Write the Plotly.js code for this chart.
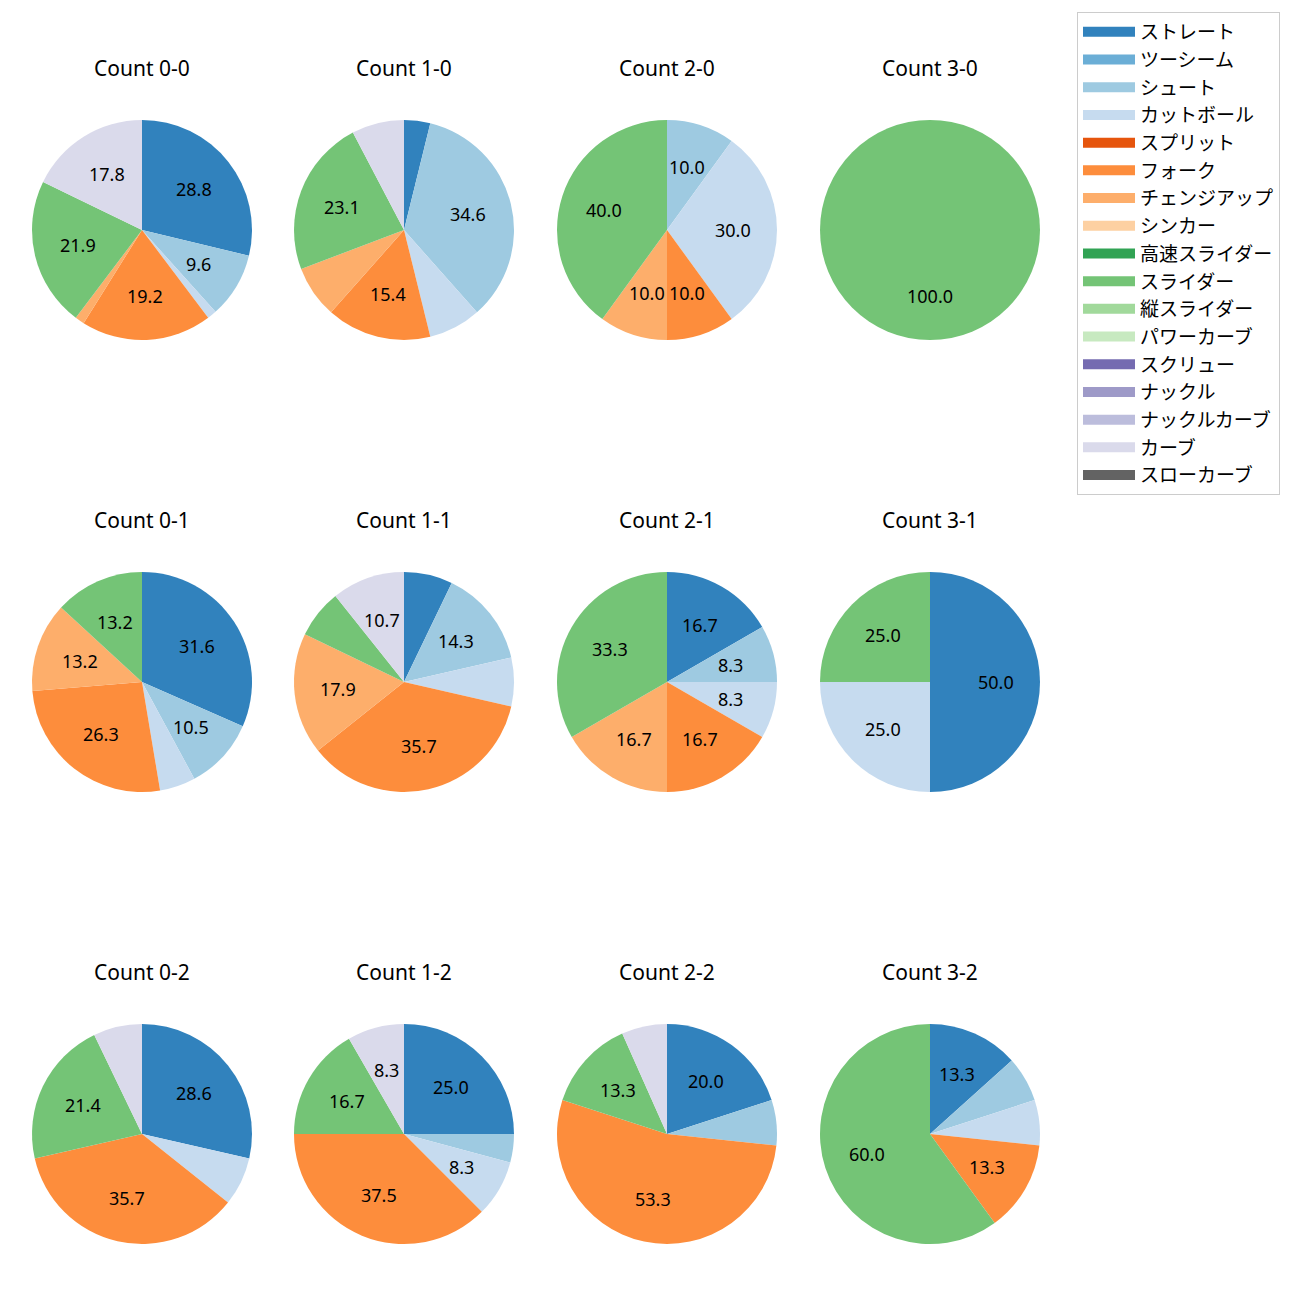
<!DOCTYPE html>
<html>
<head>
<meta charset="utf-8">
<script src="https://cdn.plot.ly/plotly-3.0.1.min.js"></script>
<style>body{margin:0;padding:0;background:#fff;}#chart{width:1300px;height:1300px;}</style>
</head>
<body>
<div id="chart"></div>
<script>
// Pitch type labels (legend order) and tab20c colours
const labels = ['ストレート','ツーシーム','シュート','カットボール','スプリット','フォーク','チェンジアップ','シンカー','高速スライダー','スライダー','縦スライダー','パワーカーブ','スクリュー','ナックル','ナックルカーブ','カーブ','スローカーブ'];
const colors = ['#3182bd','#6baed6','#9ecae1','#c6dbef','#e6550d','#fd8d3c','#fdae6b','#fdd0a2','#31a354','#74c476','#a1d99b','#c7e9c0','#756bb1','#9e9ac8','#bcbddc','#dadaeb','#636363'];

// Pitch counts per ball-strike count, aligned with labels
const count00 = [21,0,7,1,0,14,1,0,0,16,0,0,0,0,0,13,0];
const count10 = [1,0,9,2,0,4,2,0,0,6,0,0,0,0,0,2,0];
const count20 = [0,0,1,3,0,1,1,0,0,4,0,0,0,0,0,0,0];
const count30 = [0,0,0,0,0,0,0,0,0,1,0,0,0,0,0,0,0];
const count01 = [12,0,4,2,0,10,5,0,0,5,0,0,0,0,0,0,0];
const count11 = [2,0,4,2,0,10,5,0,0,2,0,0,0,0,0,3,0];
const count21 = [2,0,1,1,0,2,2,0,0,4,0,0,0,0,0,0,0];
const count31 = [2,0,0,1,0,0,0,0,0,1,0,0,0,0,0,0,0];
const count02 = [4,0,0,1,0,5,0,0,0,3,0,0,0,0,0,1,0];
const count12 = [6,0,1,2,0,9,0,0,0,4,0,0,0,0,0,2,0];
const count22 = [3,0,1,0,0,8,0,0,0,2,0,0,0,0,0,1,0];
const count32 = [2,0,1,1,0,2,0,0,0,9,0,0,0,0,0,0,0];

const titles = ['Count 0-0','Count 1-0','Count 2-0','Count 3-0',
                'Count 0-1','Count 1-1','Count 2-1','Count 3-1',
                'Count 0-2','Count 1-2','Count 2-2','Count 3-2'];
const series = [count00,count10,count20,count30,count01,count11,count21,count31,count02,count12,count22,count32];

const W = 1300, H = 1300;
const colCenters = [142, 404, 667, 930];
const rowCenters = [230, 682, 1134];
const R = 110;
const LABEL_DIST = 0.6;
const FONT = 'Noto Sans, Noto Sans CJK JP, sans-serif';

const traces = [];
const annotations = [];
series.forEach((vals, i) => {
  const row = Math.floor(i / 4), col = i % 4;
  const cx = colCenters[col], cy = rowCenters[row];
  const total = vals.reduce((a, b) => a + b, 0);
  traces.push({
    type: 'pie',
    labels: labels,
    values: vals,
    textinfo: 'none',
    marker: {colors: colors, line: {width: 0}},
    sort: false,
    direction: 'clockwise',
    rotation: 0,
    hoverinfo: 'label+percent',
    domain: {
      x: [(cx - R) / W, (cx + R) / W],
      y: [1 - (cy + R) / H, 1 - (cy - R) / H]
    },
    showlegend: false
  });
  // percentage labels at 0.6 radius along each slice's mid-angle
  let cum = 0;
  vals.forEach(v => {
    const p = v / total * 100;
    const mid = (cum + v / 2) / total * 2 * Math.PI;
    cum += v;
    if (p >= 8) {
      annotations.push({
        text: p.toFixed(1),
        xref: 'paper', yref: 'paper',
        x: (cx + LABEL_DIST * R * Math.sin(mid)) / W,
        y: 1 - (cy - LABEL_DIST * R * Math.cos(mid)) / H,
        xanchor: 'center', yanchor: 'middle',
        showarrow: false,
        font: {family: FONT, size: 18, color: '#000'}
      });
    }
  });
  annotations.push({
    text: titles[i],
    xref: 'paper', yref: 'paper',
    x: cx / W, y: 1 - (cy - R - 52) / H,
    xanchor: 'center', yanchor: 'middle',
    showarrow: false,
    font: {family: FONT, size: 21, color: '#000'}
  });
});

// legend swatches
labels.forEach((lab, k) => {
  traces.push({
    type: 'scatter', mode: 'lines',
    x: [null], y: [null],
    name: lab,
    line: {color: colors[k], width: 13},
    hoverinfo: 'skip',
    showlegend: true
  });
});

const layout = {
  width: W, height: H,
  margin: {l: 0, r: 0, t: 0, b: 0},
  paper_bgcolor: '#fff',
  plot_bgcolor: 'rgba(0,0,0,0)',
  xaxis: {visible: false, fixedrange: true},
  yaxis: {visible: false, fixedrange: true},
  showlegend: true,
  legend: {
    x: 1077 / W, y: 1 - 12 / H, xanchor: 'left', yanchor: 'top',
    font: {family: FONT, size: 19, color: '#000'},
    bordercolor: '#cccccc', borderwidth: 1, bgcolor: '#fff',
    traceorder: 'normal',
    itemwidth: 52
  },
  annotations: annotations
};

Plotly.newPlot('chart', traces, layout, {displayModeBar: false});
</script>
</body>
</html>
